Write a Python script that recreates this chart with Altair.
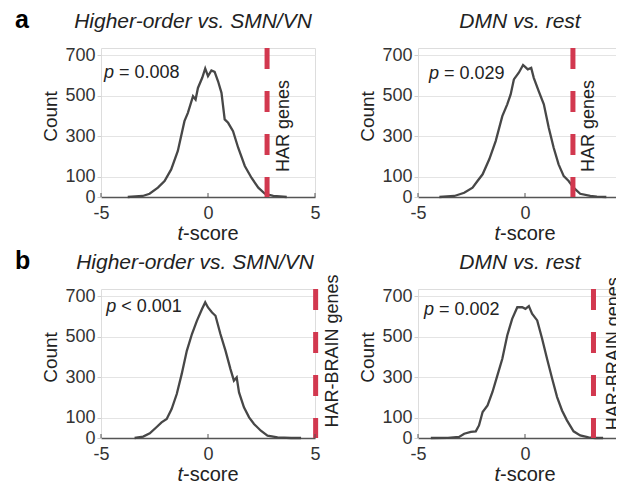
import altair as alt
import pandas as pd

FONT = "Liberation Sans"
RED = "#d2384f"
LINE = "#474747"
TXT = "#222222"

# ---- data ----
aL_t = [-3.75, -3.05, -2.73, -2.34, -2.03, -1.72, -1.41, -1.10, -0.94, -0.70, -0.58, -0.47, -0.27, -0.13, 0.0,
        0.16, 0.31, 0.47, 0.63, 0.78, 0.94, 1.17, 1.41, 1.72, 2.03, 2.35, 2.66, 3.05, 3.68]
aL_c = [0, 5, 16, 46, 79, 136, 227, 374, 415, 497, 481, 538, 588, 634, 596,
        624, 617, 571, 514, 383, 366, 325, 243, 153, 95, 46, 16, 5, 0]

aR_t = [-4.0, -3.3, -2.84, -2.45, -2.22, -1.98, -1.67, -1.37, -1.06, -0.83, -0.67, -0.52, -0.29, -0.09, 0.02,
        0.13, 0.29, 0.41, 0.64, 0.88, 1.11, 1.34, 1.57, 1.81, 2.04, 2.27, 2.58, 3.05, 3.36, 3.8]
aR_c = [0, 5, 21, 46, 79, 112, 186, 276, 399, 457, 506, 580, 613, 651, 641,
        630, 637, 588, 522, 457, 342, 243, 161, 103, 79, 46, 16, 5, 2, 0]

bL_t = [-3.43, -3.03, -2.72, -2.41, -2.17, -1.93, -1.70, -1.46, -1.23, -0.99, -0.75, -0.52, -0.28, -0.13, 0.0,
        0.19, 0.35, 0.58, 0.82, 1.05, 1.21, 1.34, 1.45, 1.68, 1.92, 2.15, 2.47, 2.78, 3.25, 3.88, 4.35]
bL_c = [0, 7, 23, 53, 77, 94, 143, 217, 315, 430, 513, 578, 636, 669, 644,
        619, 603, 513, 430, 340, 283, 299, 225, 151, 102, 69, 36, 12, 3, 0, 0]

bR_t = [-4.4, -3.6, -3.08, -2.84, -2.53, -2.3, -2.15, -1.98, -1.75, -1.52, -1.29, -1.06, -0.83, -0.60, -0.36,
        -0.13, 0.02, 0.18, 0.33, 0.57, 0.80, 1.03, 1.27, 1.5, 1.73, 1.96, 2.27, 2.58, 2.97, 3.28, 3.65]
bR_c = [0, 1, 5, 21, 30, 33, 62, 128, 161, 227, 309, 391, 506, 588, 645,
        645, 637, 651, 613, 580, 490, 391, 292, 202, 136, 87, 33, 13, 3, 0, 0]

titles = ["Higher-order vs. SMN/VN", "DMN vs. rest", "Higher-order vs. SMN/VN", "DMN vs. rest"]
har_t = [2.76, 2.24, 5.03, 3.2]
har_labels = ["HAR genes", "HAR genes", "HAR-BRAIN genes", "HAR-BRAIN genes"]
har_label_t = [3.54, 2.98, 5.85, 4.15]
har_label_y = [350, 350, 429, 416]
p_texts = ["= 0.008", "= 0.029", "< 0.001", "= 0.002"]
p_pos_t = [-4.86, -4.49, -4.76, -4.72]
p_pos_y = [587, 580, 621, 607]
title_x = [92, 102, 94, 102]
letters = ["a", None, "b", None]

x_ticks = [-5, 0, 5]
y_ticks = [0, 100, 300, 500, 700]
Y_MAX = 735

W, H = 214, 149


def xenc():
    return alt.X("t:Q", scale=alt.Scale(domain=[-5, 5], nice=False, zero=False),
                 axis=alt.Axis(values=x_ticks, title=None, grid=False, ticks=False,
                               domainColor="#555555", domainWidth=1.5, labelFontSize=18,
                               labelPadding=7, labelColor="#333333", labelFont=FONT,
                               labelFlush=False, labelExpr="'' + datum.value"))


def yenc():
    return alt.Y("count:Q", scale=alt.Scale(domain=[0, Y_MAX], nice=False),
                 axis=alt.Axis(values=y_ticks, title="Count", titleFontSize=19,
                               titleFontWeight="normal", titleColor=TXT, titleFont=FONT,
                               titleX=-45, titleY=68, titleBaseline="alphabetic",
                               grid=True, gridColor="#e4e4e4", domain=False, tickSize=4,
                               tickColor="#d0d0d0", labelFontSize=18, labelPadding=2,
                               labelColor="#333333", labelFont=FONT))


def one(s):
    return pd.DataFrame({"s": [s]})


def panel(i, t, c):
    df = pd.DataFrame({"t": t, "count": c})
    line = alt.Chart(df).mark_line(color=LINE, strokeWidth=2.3).encode(x=xenc(), y=yenc())
    rule = alt.Chart(pd.DataFrame({"t": [har_t[i]], "count": [Y_MAX], "count2": [0]})).mark_rule(
        color=RED, strokeWidth=5, strokeDash=[21, 22]).encode(x=xenc(), y=yenc(), y2="count2:Q")
    pdf = pd.DataFrame({"t": [p_pos_t[i]], "count": [p_pos_y[i]], "s": ["p"], "r": [p_texts[i]]})
    p1 = alt.Chart(pdf).mark_text(align="left", baseline="alphabetic", fontStyle="italic",
                                  fontSize=18, font=FONT, color=TXT).encode(x=xenc(), y=yenc(), text="s:N")
    p2 = alt.Chart(pdf).mark_text(align="left", baseline="alphabetic", dx=15,
                                  fontSize=18, font=FONT, color=TXT).encode(x=xenc(), y=yenc(), text="r:N")
    ldf = pd.DataFrame({"t": [har_label_t[i]], "count": [har_label_y[i]], "s": [har_labels[i]]})
    lab = alt.Chart(ldf).mark_text(angle=270, align="center", baseline="middle", fontSize=18,
                                   font=FONT, color=TXT).encode(x=xenc(), y=yenc(), text="s:N")
    ticks = alt.Chart(pd.DataFrame({"t": x_ticks})).mark_rule(color="#555555", strokeWidth=1).encode(
        x=xenc(), y=alt.value(H - 4), y2=alt.value(H))
    xt1 = alt.Chart(one("t")).mark_text(align="right", baseline="alphabetic", fontStyle="italic",
                                        fontSize=20, font=FONT, color=TXT).encode(
        x=alt.value(W / 2 - 25), y=alt.value(H + 43), text="s:N")
    xt2 = alt.Chart(one("-score")).mark_text(align="left", baseline="alphabetic",
                                             fontSize=20, font=FONT, color=TXT).encode(
        x=alt.value(W / 2 - 25), y=alt.value(H + 43), text="s:N")
    ttl = alt.Chart(one(titles[i])).mark_text(align="center", baseline="alphabetic", fontStyle="italic",
                                              fontSize=21, font=FONT, color=TXT).encode(
        x=alt.value(title_x[i]), y=alt.value(-20), text="s:N")
    layers = [line, rule, ticks, p1, p2, lab, xt1, xt2, ttl]
    if letters[i]:
        let = alt.Chart(one(letters[i])).mark_text(align="left", baseline="alphabetic", fontWeight="bold",
                                                   fontSize=25, font=FONT, color="#000000").encode(
            x=alt.value(-86), y=alt.value(-20), text="s:N")
        layers.append(let)
    return alt.layer(*layers).properties(width=W, height=H)


charts = [panel(0, aL_t, aL_c), panel(1, aR_t, aR_c), panel(2, bL_t, bL_c), panel(3, bR_t, bR_c)]

chart = alt.concat(*charts, columns=2, spacing={"row": 92, "column": 103}, bounds="flush").properties(
    padding={"left": 6, "top": -1, "right": -22, "bottom": -5}
).configure_view(stroke=None).configure(background="white")

chart.save("out.html", embed_options={"renderer": "svg", "actions": False})
